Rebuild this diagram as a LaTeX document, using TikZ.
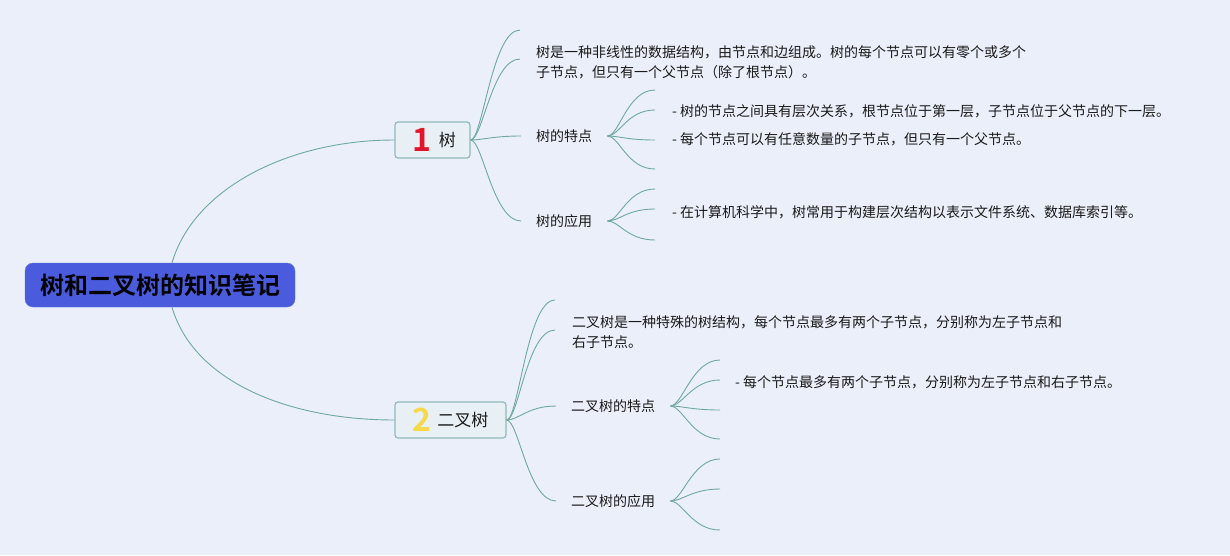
\documentclass[tikz,border=0pt]{standalone}
\usepackage{fontspec}
\setmainfont{Noto Sans CJK SC}[BoldFont={Noto Sans CJK SC Bold}]
\usetikzlibrary{calc}
\definecolor{bg}{HTML}{EBEFFA}
\definecolor{rootf}{HTML}{4A5BDD}
\definecolor{boxf}{HTML}{E8F0F6}
\definecolor{bord}{HTML}{8FB8B8}
\definecolor{lnk}{HTML}{6FA8A0}
\definecolor{txt}{HTML}{1A1A1A}
\definecolor{numred}{HTML}{E0162B}
\definecolor{numyel}{HTML}{F7D84A}
\newcommand{\bignum}[2]{{\fontsize{32}{32}\selectfont\bfseries\color{#1}#2}}
\begin{document}
\begin{tikzpicture}[x=1pt,y=-1pt,
  link/.style={draw=lnk, line width=0.9pt},
  branch/.style={link, to path={.. controls ([xshift=12pt]\tikztostart) and ([xshift=-28pt]\tikztotarget) .. (\tikztotarget)}},
  note/.style={anchor=west, inner sep=0pt, font=\fontsize{14}{20}\selectfont, text=txt, align=left},
  sub/.style={anchor=west, inner xsep=15pt, inner ysep=2pt, font=\fontsize{14}{20}\selectfont, text=txt},
  topic/.style={draw=bord, fill=boxf, line width=1.2pt, rounded corners=3pt, minimum height=36pt, font=\fontsize{17}{20}\selectfont, text=txt, inner sep=0pt},
  rootbox/.style={fill=rootf, draw=rootf!85!white, rounded corners=8pt, minimum width=270pt, minimum height=44pt, font=\fontsize{24}{28}\selectfont\bfseries, text=black, inner sep=0pt}
]
\fill[bg] (0,0) rectangle (1230,555);
\useasboundingbox (0,0) rectangle (1230,555);

% main nodes
\node[rootbox] (root) at (160,285) {树和二叉树的知识笔记};
\node[topic, minimum width=75pt] (t1) at (432.5,140) {\hspace{3pt}\bignum{numred}{1}\hspace{8pt}\raisebox{5pt}{树}};
\node[topic, minimum width=111pt] (t2) at (450.5,420) {\bignum{numyel}{2}\hspace{6pt}\raisebox{5pt}{二叉树}};

\draw[link] ([xshift=12pt]root.north) .. controls +(22,-75) and +(-105,0) .. (t1.west);
\draw[link] ([xshift=12pt]root.south) .. controls +(22,75) and +(-105,0) .. (t2.west);

% branch 1
\coordinate (e1a) at (520,30);
\coordinate (e1b) at (520,59);
\node[note] (d1) at (536,62) {树是一种非线性的数据结构，由节点和边组成。树的每个节点可以有零个或多个\\子节点，但只有一个父节点（除了根节点）。};
\node[sub] (tz1) at (521,136) {树的特点};
\node[sub] (ty1) at (521,221) {树的应用};
\draw[branch] (t1.east) to (e1a);
\draw[branch] (t1.east) to (e1b);
\draw[branch] (t1.east) to (tz1.west);
\draw[branch] (t1.east) to (ty1.west);

\coordinate (f1a) at (655,90);
\coordinate (f1b) at (655,110);
\coordinate (f1c) at (655,140);
\coordinate (f1d) at (655,169);
\draw[branch] (tz1.east) to (f1a);
\draw[branch] (tz1.east) to (f1b);
\draw[branch] (tz1.east) to (f1c);
\draw[branch] (tz1.east) to (f1d);
\node[note] (g1a) at (672,111) {- 树的节点之间具有层次关系，根节点位于第一层，子节点位于父节点的下一层。};
\node[note] (g1b) at (672,139) {- 每个节点可以有任意数量的子节点，但只有一个父节点。};

\coordinate (h1a) at (655,189);
\coordinate (h1b) at (655,209);
\coordinate (h1c) at (655,240);
\draw[branch] (ty1.east) to (h1a);
\draw[branch] (ty1.east) to (h1b);
\draw[branch] (ty1.east) to (h1c);
\node[note] (k1a) at (672,212) {- 在计算机科学中，树常用于构建层次结构以表示文件系统、数据库索引等。};

% branch 2
\coordinate (e2a) at (555,300);
\coordinate (e2b) at (555,330);
\node[note] (d2) at (572,332) {二叉树是一种特殊的树结构，每个节点最多有两个子节点，分别称为左子节点和\\右子节点。};
\node[sub] (tz2) at (556,406) {二叉树的特点};
\node[sub] (ty2) at (556,501) {二叉树的应用};
\draw[branch] (t2.east) to (e2a);
\draw[branch] (t2.east) to (e2b);
\draw[branch] (t2.east) to (tz2.west);
\draw[branch] (t2.east) to (ty2.west);

\coordinate (f2a) at (720,360);
\coordinate (f2b) at (720,380);
\coordinate (f2c) at (720,410);
\coordinate (f2d) at (720,439);
\draw[branch] (tz2.east) to (f2a);
\draw[branch] (tz2.east) to (f2b);
\draw[branch] (tz2.east) to (f2c);
\draw[branch] (tz2.east) to (f2d);
\node[note] (g2a) at (735,382) {- 每个节点最多有两个子节点，分别称为左子节点和右子节点。};

\coordinate (h2a) at (720,459);
\coordinate (h2b) at (720,489);
\coordinate (h2c) at (720,530);
\draw[branch] (ty2.east) to (h2a);
\draw[branch] (ty2.east) to (h2b);
\draw[branch] (ty2.east) to (h2c);
\end{tikzpicture}
\end{document}
